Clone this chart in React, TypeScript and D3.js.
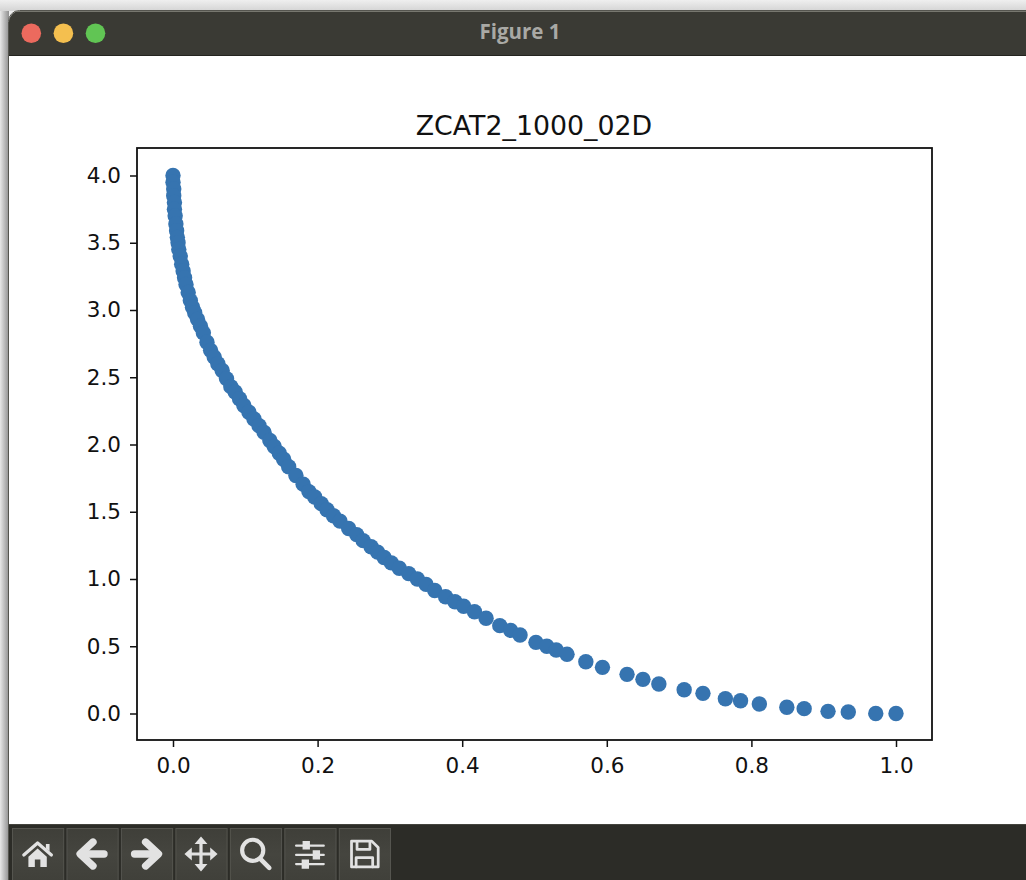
import { useEffect, useRef } from 'react';
import * as d3 from 'd3';

const chartTitle = 'ZCAT2_1000_02D';
const windowTitle = 'Figure 1';

// values, top of the curve first
const xValues = [
  0.000, 0.000, 0.001, 0.001, 0.002, 0.002, 0.003, 0.004, 0.005, 0.006, 0.007, 0.008,
  0.010, 0.012, 0.014, 0.016, 0.018, 0.021, 0.024, 0.027, 0.030, 0.034, 0.038, 0.042,
  0.047, 0.052, 0.057, 0.062, 0.068, 0.074, 0.080, 0.086, 0.092, 0.098, 0.105, 0.112,
  0.119, 0.126, 0.134, 0.140, 0.147, 0.153, 0.160, 0.170, 0.180, 0.188, 0.196, 0.205, 0.213,
  0.222, 0.231, 0.243, 0.254, 0.263, 0.274, 0.283, 0.292, 0.302, 0.313, 0.326, 0.338,
  0.350, 0.362, 0.377, 0.390, 0.402, 0.417, 0.433, 0.452, 0.467, 0.480, 0.502, 0.517,
  0.530, 0.545, 0.571, 0.594, 0.628, 0.650, 0.672, 0.707, 0.733, 0.764, 0.785, 0.811,
  0.849, 0.873, 0.906, 0.934, 0.972, 1.000,
];
const yValues = [
  4.000, 3.950, 3.900, 3.850, 3.800, 3.750, 3.700, 3.640, 3.590, 3.540, 3.500, 3.450,
  3.400, 3.340, 3.290, 3.240, 3.190, 3.130, 3.070, 3.020, 2.980, 2.930, 2.880, 2.830,
  2.760, 2.700, 2.650, 2.600, 2.550, 2.490, 2.430, 2.390, 2.340, 2.290, 2.240, 2.190,
  2.140, 2.090, 2.030, 1.985, 1.935, 1.890, 1.835, 1.770, 1.705, 1.650, 1.610, 1.560, 1.515,
  1.470, 1.430, 1.375, 1.330, 1.285, 1.240, 1.200, 1.160, 1.120, 1.080, 1.040, 1.000,
  0.960, 0.915, 0.868, 0.831, 0.797, 0.757, 0.708, 0.653, 0.618, 0.584, 0.529, 0.500,
  0.472, 0.440, 0.385, 0.343, 0.291, 0.254, 0.219, 0.177, 0.150, 0.110, 0.095, 0.071,
  0.046, 0.036, 0.016, 0.011, 0.000, 0.000,
];
const xTicks = [0, 0.2, 0.4, 0.6, 0.8, 1];
const yTicks = [0, 0.5, 1, 1.5, 2, 2.5, 3, 3.5, 4];
const trafficLights = ['#ec6a5e', '#f4bf4f', '#61c554'];
const toolButtons = ['home', 'back', 'forward', 'move', 'zoom', 'sliders', 'save'];

const W = 1026;
const H = 880;
const plot = { left: 137, right: 932, top: 148, bottom: 740 };

export default function App() {
  const ref = useRef<SVGSVGElement>(null);

  useEffect(() => {
    if (!ref.current) return;
    const svg = d3.select(ref.current);
    svg.selectAll('*').remove();

    const defs = svg.append('defs');
    const shadow = defs.append('linearGradient').attr('id', 'left-shadow');
    shadow.append('stop').attr('offset', '0%').attr('stop-color', '#e8e8e8');
    shadow.append('stop').attr('offset', '100%').attr('stop-color', '#8f8f8f');
    const topShade = defs.append('linearGradient').attr('id', 'top-shade')
      .attr('x1', 0).attr('x2', 0).attr('y1', 0).attr('y2', 1);
    topShade.append('stop').attr('offset', '0%').attr('stop-color', '#efefef');
    topShade.append('stop').attr('offset', '100%').attr('stop-color', '#d4d4d4');
    const btn = defs.append('linearGradient').attr('id', 'btn')
      .attr('x1', 0).attr('x2', 0).attr('y1', 0).attr('y2', 1);
    btn.append('stop').attr('offset', '0%').attr('stop-color', '#3f3f39');
    btn.append('stop').attr('offset', '50%').attr('stop-color', '#45453f');
    btn.append('stop').attr('offset', '100%').attr('stop-color', '#40403a');

    // Window frame
    svg.append('rect').attr('width', W).attr('height', H).attr('fill', '#ececec');
    svg.append('rect').attr('width', W).attr('height', 11).attr('fill', 'url(#top-shade)');
    svg.append('rect').attr('y', 11).attr('width', 9).attr('height', H - 11).attr('fill', 'url(#left-shadow)');
    svg.append('rect').attr('x', 8.5).attr('y', 10.5).attr('width', W + 20).attr('height', H + 20)
      .attr('rx', 11).attr('fill', '#ffffff').attr('stroke', '#55554f');

    const titleBar = d3.path();
    titleBar.moveTo(9, 56);
    titleBar.lineTo(9, 22);
    titleBar.arcTo(9, 11, 20, 11, 11);
    titleBar.lineTo(W, 11);
    titleBar.lineTo(W, 56);
    titleBar.closePath();
    svg.append('path').attr('d', titleBar.toString()).attr('fill', '#3a3a34');
    svg.append('line').attr('x1', 14).attr('x2', W).attr('y1', 11.5).attr('y2', 11.5).attr('stroke', '#77776f');
    svg.append('line').attr('x1', 9).attr('x2', W).attr('y1', 55.5).attr('y2', 55.5).attr('stroke', '#24241f');

    svg.selectAll('.light').data(trafficLights).enter().append('circle')
      .attr('class', 'light')
      .attr('cx', (_, i) => 31.3 + i * 32.1)
      .attr('cy', 33.3)
      .attr('r', 9.8)
      .attr('fill', d => d);

    svg.append('text').attr('x', 520).attr('y', 39)
      .attr('text-anchor', 'middle')
      .style('font-family', '"Open Sans", sans-serif')
      .style('font-size', '20.5px')
      .style('font-weight', 700)
      .style('fill', '#a9a9a5')
      .text(windowTitle);

    // Scales
    const x = d3.scaleLinear().domain([0, 1]).range([173, 896]);
    const y = d3.scaleLinear().domain([0, 4]).range([713.5, 175.5]);

    // Points
    svg.append('g').selectAll('circle')
      .data(xValues.map((v, i) => [v, yValues[i]]))
      .enter().append('circle')
      .attr('cx', d => x(d[0]))
      .attr('cy', d => y(d[1]))
      .attr('r', 7.7)
      .attr('fill', '#3674b0');

    // Spines
    svg.append('rect')
      .attr('x', plot.left).attr('y', plot.top)
      .attr('width', plot.right - plot.left).attr('height', plot.bottom - plot.top)
      .attr('fill', 'none').attr('stroke', '#111').attr('stroke-width', 1.8);

    // Axes
    const fmt = d3.format('.1f');
    const styleAxis = (g: any) => {
      g.select('.domain').remove();
      g.selectAll('.tick line').attr('stroke', '#111').attr('stroke-width', 1.5);
      g.selectAll('.tick text')
        .attr('fill', '#111')
        .style('font-family', '"DejaVu Sans", sans-serif')
        .style('font-size', '21.5px');
    };
    svg.append('g')
      .attr('transform', `translate(0,${plot.bottom})`)
      .call(d3.axisBottom(x).tickValues(xTicks).tickFormat((d: any) => fmt(d)).tickSize(7).tickPadding(10.5))
      .call(styleAxis);
    svg.append('g')
      .attr('transform', `translate(${plot.left},0)`)
      .call(d3.axisLeft(y).tickValues(yTicks).tickFormat((d: any) => fmt(d)).tickSize(7).tickPadding(9))
      .call(styleAxis);

    svg.append('text').attr('x', 534).attr('y', 135)
      .attr('text-anchor', 'middle')
      .style('font-family', '"DejaVu Sans", sans-serif')
      .style('font-size', '26.8px')
      .style('fill', '#111')
      .text(chartTitle);

    // Toolbar
    svg.append('rect').attr('x', 9).attr('y', 825).attr('width', W - 9).attr('height', 55).attr('fill', '#2c2c27');
    svg.append('line').attr('x1', 9).attr('x2', W).attr('y1', 824.5).attr('y2', 824.5).attr('stroke', '#44443e');

    const band = d3.scaleBand().domain(toolButtons).range([12, 390]).paddingInner(0.06);
    const iconColor = '#e2e2e2';
    const btns = svg.append('g').selectAll('g')
      .data(toolButtons).enter().append('g')
      .attr('transform', d => `translate(${band(d)},828)`);
    btns.append('rect')
      .attr('x', 0.5).attr('y', 0.5)
      .attr('width', band.bandwidth()).attr('height', 52)
      .attr('fill', 'url(#btn)').attr('stroke', '#55554f');

    const bw = band.bandwidth();
    btns.each(function (name) {
      const g = d3.select(this).append('g').attr('transform', `translate(${bw / 2},26) scale(0.92)`);
      const line = (d: string, w: number) => g.append('path').attr('d', d).attr('fill', 'none')
        .attr('stroke', iconColor).attr('stroke-width', w).attr('stroke-linecap', 'round').attr('stroke-linejoin', 'round');
      const solid = (d: string) => g.append('path').attr('d', d).attr('fill', iconColor);
      if (name === 'home') {
        line('M-15,1 L0,-12 L15,1', 3.5);
        solid('M9,-11 h4 v8 l-4,-3 z');
        solid('M-10,3 L0,-6 L10,3 V14 H3 V6 H-3 V14 H-10 Z');
      } else if (name === 'back') {
        line('M-12,0 H13', 8);
        line('M1,-13 L-13,0 L1,13', 8);
      } else if (name === 'forward') {
        line('M-13,0 H12', 8);
        line('M-1,-13 L13,0 L-1,13', 8);
      } else if (name === 'move') {
        line('M-13,0 H13 M0,-13 V13', 3.5);
        solid('M0,-19 L7,-11 H-7 Z M0,19 L7,11 H-7 Z M-18,0 L-10,-7 V7 Z M18,0 L10,-7 V7 Z');
      } else if (name === 'zoom') {
        g.append('circle').attr('cx', -3).attr('cy', -4).attr('r', 11.5)
          .attr('fill', 'none').attr('stroke', iconColor).attr('stroke-width', 4.5);
        line('M5,5 L15,15', 5);
      } else if (name === 'sliders') {
        line('M-15,-9 H15 M-15,1 H15 M-15,11 H15', 2.5);
        solid('M-8,-14 h8 v9 h-8 z M3,-4 h8 v10 h-8 z M-9,6 h8 v10 h-8 z');
      } else {
        line('M-14,-14 H8 L15,-7 V14 H-14 Z', 3);
        line('M-8,-13 V-5 H6 V-13', 3);
        line('M-9,14 V4 H9 V14', 3);
      }
    });
  }, []);

  return <svg ref={ref} width={W} height={H} style={{ position: 'absolute', left: 0, top: 0 }} />;
}
